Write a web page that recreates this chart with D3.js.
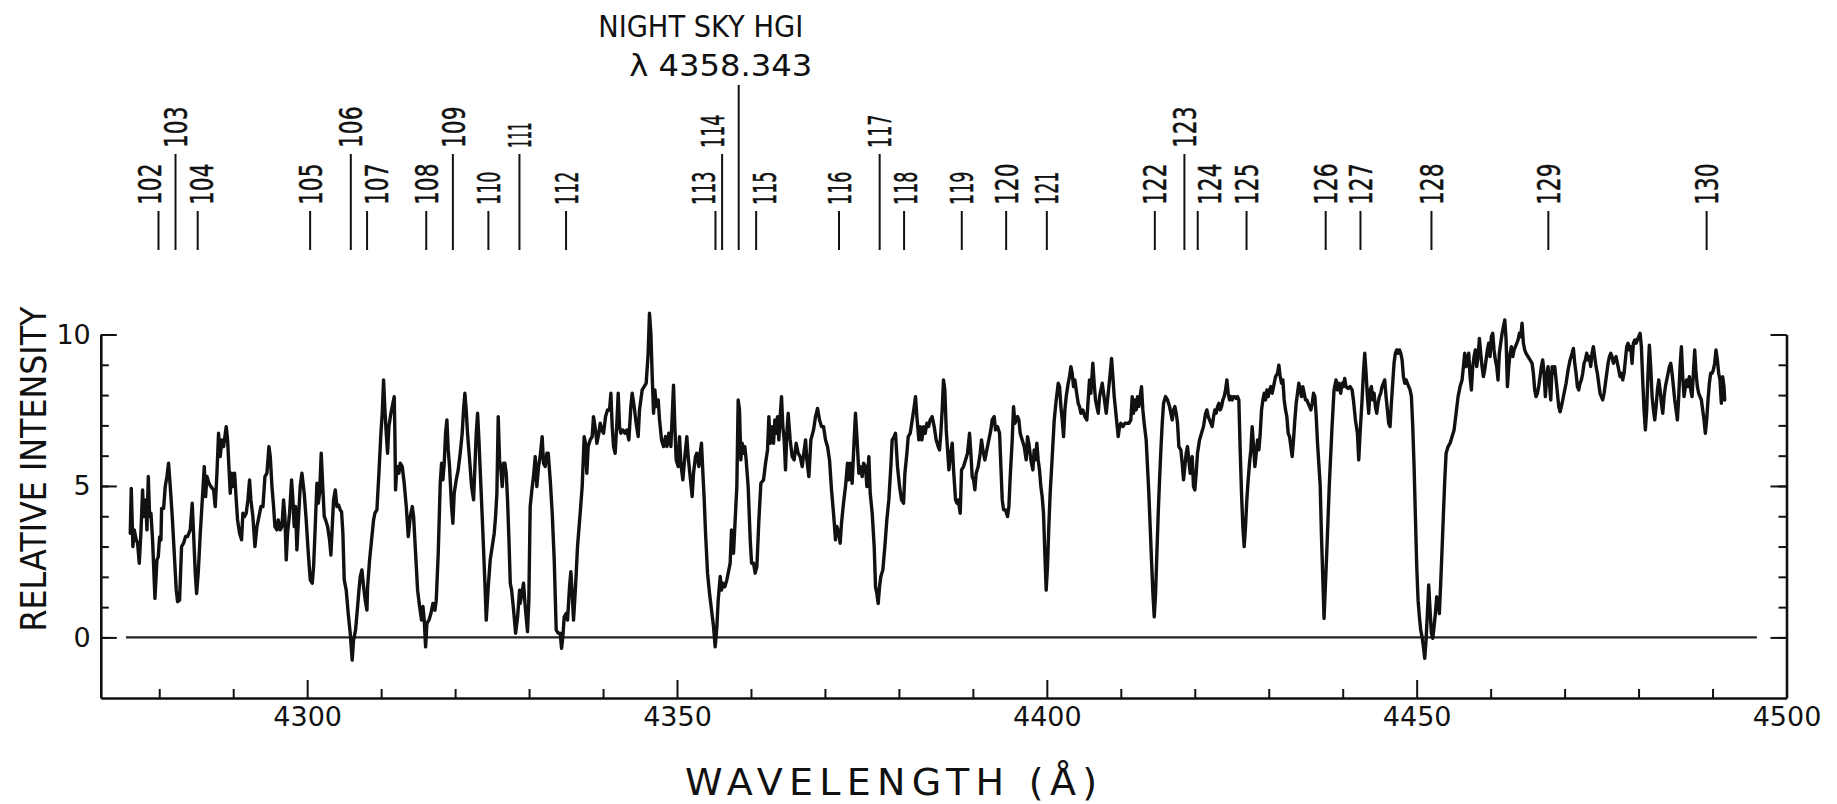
<!DOCTYPE html>
<html>
<head>
<meta charset="utf-8">
<script src="https://cdn.jsdelivr.net/npm/d3@7"></script>
<style>
  html, body { margin: 0; padding: 0; background: #fff; }
  svg { display: block; }
  text { font-family: "DejaVu Sans", "Liberation Sans", sans-serif; fill: #111; }
</style>
</head>
<body>
<svg id="chart" width="1837" height="804"></svg>
<script>
// ---- axis ticks ----
const xTickValues = [4300, 4350, 4400, 4450, 4500];
const yTickValues = [0, 5, 10];
const xAxisTitle = "WAVELENGTH (Å)";
const yAxisTitle = "RELATIVE INTENSITY";

// ---- identified absorption features ----
const lineIds = ["102","103","104","105","106","107","108","109","110","111","112","113","114","115",
                 "116","117","118","119","120","121","122","123","124","125","126","127","128","129","130"];
const lineWavelengths = [4279.9, 4282.2, 4285.2, 4300.4, 4305.9, 4308.1, 4316.1, 4319.7, 4324.5, 4328.7,
                         4335.0, 4355.2, 4356.1, 4360.7, 4371.9, 4377.4, 4380.7, 4388.5, 4394.5, 4400.0,
                         4414.6, 4418.6, 4420.4, 4427.0, 4437.7, 4442.4, 4452.0, 4467.8, 4489.2];
const raisedIds = ["103","106","109","111","114","117","123"];

// ---- night-sky mercury line ----
const hgName = "NIGHT SKY HGI";
const hgWavelength = 4358.343;

// ---- zero level drawn across the trace ----
const zeroLineSpan = [4275.5, 4496];

// ---- spectrum: [wavelength (Å), relative intensity] ----
const spectrum = [
[4276.08,3.44],[4276.22,4.92],[4276.44,3.00],[4276.62,3.55],[4276.89,3.22],[4277.07,3.11],[4277.30,2.45],[4277.52,3.44],[4277.75,4.87],[4277.89,3.99],
[4278.02,4.10],[4278.16,4.54],[4278.34,3.55],[4278.52,5.31],[4278.70,3.99],[4278.88,4.10],[4279.10,3.22],[4279.42,1.29],[4279.69,2.56],[4279.87,2.66],
[4280.05,3.32],[4280.23,3.22],[4280.32,4.26],[4280.59,4.26],[4280.81,4.98],[4281.04,5.31],[4281.26,5.75],[4281.49,4.98],[4281.76,3.99],[4282.03,2.78],
[4282.30,1.56],[4282.48,1.18],[4282.75,1.23],[4283.02,3.00],[4283.29,3.11],[4283.56,3.33],[4283.83,3.33],[4284.01,3.44],[4284.19,3.55],[4284.46,4.43],
[4284.64,3.44],[4284.87,2.12],[4285.05,1.45],[4285.27,2.12],[4285.55,3.44],[4285.82,4.54],[4286.09,5.64],[4286.27,4.65],[4286.45,5.31],[4286.72,5.09],
[4286.99,4.98],[4287.35,4.87],[4287.57,4.32],[4287.80,5.42],[4288.02,6.74],[4288.25,5.97],[4288.47,6.52],[4288.70,6.30],[4288.88,6.63],[4289.06,6.96],
[4289.24,6.52],[4289.42,5.64],[4289.60,4.76],[4289.78,5.42],[4289.96,4.98],[4290.19,5.42],[4290.41,4.54],[4290.59,3.88],[4290.86,3.44],[4291.13,3.22],
[4291.31,4.10],[4291.54,3.99],[4291.76,4.10],[4291.99,4.54],[4292.21,5.20],[4292.39,4.54],[4292.66,3.99],[4292.94,3.00],[4293.21,3.66],[4293.48,3.99],
[4293.75,4.32],[4294.02,4.32],[4294.29,5.31],[4294.56,5.42],[4294.83,6.30],[4295.01,5.97],[4295.24,4.98],[4295.46,4.32],[4295.64,3.66],[4295.91,3.55],
[4296.09,3.88],[4296.36,3.55],[4296.59,3.66],[4296.81,4.54],[4296.99,3.99],[4297.17,2.56],[4297.35,3.44],[4297.62,4.10],[4297.89,5.20],[4298.07,4.54],
[4298.25,3.66],[4298.43,4.32],[4298.61,2.89],[4298.84,3.99],[4299.06,4.98],[4299.29,5.42],[4299.60,4.76],[4299.87,3.88],[4300.15,2.78],[4300.42,1.90],
[4300.69,1.79],[4300.87,2.34],[4301.09,3.66],[4301.32,5.09],[4301.50,4.43],[4301.68,4.76],[4301.90,6.08],[4302.13,4.87],[4302.31,3.99],[4302.49,3.88],
[4302.76,3.66],[4303.03,3.22],[4303.21,2.72],[4303.39,3.66],[4303.57,4.54],[4303.80,4.87],[4304.02,4.32],[4304.25,4.37],[4304.47,4.21],[4304.65,4.15],
[4304.83,3.44],[4305.01,1.90],[4305.28,1.56],[4305.55,0.79],[4305.82,0.14],[4306.09,-0.75],[4306.27,-0.09],[4306.54,0.24],[4306.82,1.02],[4307.00,1.56],
[4307.18,2.01],[4307.40,2.23],[4307.63,1.67],[4307.85,1.23],[4308.08,0.90],[4308.17,1.67],[4308.44,2.56],[4308.71,3.22],[4308.98,3.88],[4309.16,4.10],
[4309.43,4.21],[4309.70,5.42],[4309.97,6.74],[4310.15,7.40],[4310.33,8.50],[4310.51,7.51],[4310.69,6.74],[4310.87,6.08],[4311.05,6.96],[4311.32,7.40],
[4311.59,7.73],[4311.77,7.95],[4311.86,6.74],[4311.95,4.87],[4312.13,5.64],[4312.40,5.42],[4312.58,5.75],[4312.85,5.64],[4313.12,5.09],[4313.40,4.32],
[4313.67,3.33],[4313.94,3.99],[4314.21,4.32],[4314.39,3.99],[4314.66,2.78],[4314.93,1.56],[4315.20,1.02],[4315.47,0.57],[4315.65,1.02],[4315.83,0.57],
[4316.01,-0.31],[4316.19,0.46],[4316.46,0.57],[4316.73,0.79],[4317.00,1.12],[4317.27,0.90],[4317.45,1.23],[4317.72,2.78],[4317.99,5.09],[4318.17,5.75],
[4318.35,5.20],[4318.53,5.75],[4318.71,6.74],[4318.89,7.18],[4319.07,6.19],[4319.25,5.64],[4319.52,4.32],[4319.70,3.77],[4319.88,4.76],[4320.15,5.20],
[4320.42,5.53],[4320.69,6.08],[4320.96,6.74],[4321.14,7.51],[4321.32,8.06],[4321.50,7.51],[4321.68,6.74],[4321.96,5.86],[4322.23,4.98],[4322.50,4.54],
[4322.68,5.64],[4322.86,6.74],[4323.04,7.40],[4323.22,6.52],[4323.49,4.98],[4323.76,3.44],[4324.03,1.79],[4324.21,0.57],[4324.48,1.67],[4324.75,2.56],
[4325.02,3.00],[4325.29,3.44],[4325.47,3.99],[4325.65,4.76],[4325.83,7.29],[4326.01,5.86],[4326.19,5.53],[4326.37,4.98],[4326.55,5.75],[4326.73,5.75],
[4326.91,5.42],[4327.09,4.54],[4327.28,3.22],[4327.46,1.79],[4327.64,1.56],[4327.91,0.90],[4328.18,0.14],[4328.45,0.68],[4328.72,1.56],
[4328.80,1.12],[4329.03,1.45],[4329.25,1.79],[4329.48,1.02],[4329.79,0.19],[4329.97,1.23],[4330.15,4.32],[4330.38,4.87],[4330.60,5.31],[4330.83,5.97],
[4331.05,4.98],[4331.28,5.64],[4331.50,5.97],[4331.77,6.63],[4331.95,5.75],[4332.18,5.64],[4332.41,6.08],[4332.59,6.08],[4332.86,5.20],[4333.13,4.10],
[4333.40,2.56],[4333.67,0.24],[4333.94,0.14],[4334.21,0.14],[4334.39,-0.36],[4334.57,0.02],[4334.75,0.68],[4335.02,0.79],[4335.20,0.57],[4335.47,1.67],
[4335.65,2.17],[4335.83,1.45],[4336.01,0.57],[4336.28,1.67],[4336.55,3.00],[4336.91,4.10],[4337.18,4.98],[4337.45,6.63],[4337.63,6.41],[4337.81,5.42],
[4337.99,6.30],[4338.26,6.52],[4338.53,6.63],[4338.71,7.29],[4338.98,6.85],[4339.17,6.41],[4339.44,6.74],[4339.62,7.07],[4339.84,6.85],[4340.07,6.74],
[4340.34,7.29],[4340.61,7.51],[4340.88,7.51],[4341.06,8.06],[4341.24,6.96],[4341.42,6.30],[4341.64,6.08],[4341.87,7.07],[4342.05,8.06],[4342.23,6.96],
[4342.41,6.74],[4342.68,6.85],[4342.95,6.74],[4343.22,6.85],[4343.49,6.52],[4343.76,7.62],[4343.94,8.06],[4344.21,7.62],[4344.48,7.07],[4344.75,6.63],
[4344.93,7.51],[4345.29,8.17],[4345.56,8.28],[4345.83,8.39],[4346.10,9.38],[4346.28,10.70],[4346.47,10.04],[4346.65,8.61],[4346.83,7.40],[4347.01,8.17],
[4347.19,7.62],[4347.46,7.84],[4347.64,7.18],[4347.91,6.52],[4348.18,6.30],[4348.45,6.63],[4348.63,6.30],[4348.90,6.74],[4349.17,6.30],[4349.35,7.29],
[4349.53,8.33],[4349.71,6.96],[4349.89,5.86],[4350.16,5.64],[4350.34,6.63],[4350.52,5.75],[4350.79,5.20],[4351.06,5.97],[4351.33,6.63],[4351.51,5.97],
[4351.78,5.31],[4352.05,4.65],[4352.23,5.42],[4352.50,5.97],[4352.68,6.08],[4352.95,5.64],[4353.13,6.08],[4353.31,6.41],[4353.50,5.42],[4353.68,4.54],
[4353.86,3.44],[4354.13,2.12],[4354.40,1.45],[4354.67,0.90],[4354.94,0.35],[4355.16,-0.31],[4355.39,0.35],[4355.57,1.23],[4355.84,2.01],[4356.02,1.56],
[4356.20,1.79],[4356.47,1.67],[4356.74,1.90],[4356.92,2.12],[4357.19,2.45],[4357.37,3.55],[4357.64,2.78],[4357.82,3.66],[4358.09,4.98],[4358.27,7.84],
[4358.45,7.51],[4358.63,5.86],[4358.81,6.41],[4358.99,6.08],[4359.17,6.30],[4359.35,5.86],[4359.62,4.98],[4359.90,3.22],[4360.08,2.45],[4360.35,2.45],
[4360.57,2.12],[4360.80,2.34],[4361.07,3.88],[4361.34,5.09],[4361.70,5.20],[4361.97,5.75],[4362.24,6.19],[4362.42,7.29],[4362.60,6.41],[4362.87,6.96],
[4363.05,6.41],[4363.23,7.18],[4363.41,6.74],[4363.59,7.29],[4363.77,6.52],[4363.95,7.29],[4364.13,7.95],[4364.31,6.96],[4364.49,6.52],[4364.67,5.53],
[4364.85,6.74],[4365.03,7.40],[4365.30,6.52],[4365.57,5.97],[4365.84,5.86],[4366.11,6.41],[4366.38,6.08],[4366.65,5.97],[4366.93,5.64],[4367.20,6.19],
[4367.38,6.52],[4367.56,5.86],[4367.83,5.31],[4368.10,6.52],[4368.46,6.85],[4368.73,7.29],[4369.00,7.56],[4369.27,7.18],[4369.54,6.96],[4369.81,6.96],
[4370.08,6.52],[4370.35,6.30],[4370.62,5.86],[4370.89,4.87],[4371.16,4.10],[4371.43,3.22],[4371.61,3.66],[4371.88,3.44],[4372.06,3.11],[4372.24,3.77],
[4372.51,4.43],[4372.78,4.98],[4373.05,5.75],[4373.23,5.20],[4373.41,5.75],[4373.68,5.09],[4373.95,6.52],[4374.13,7.40],[4374.32,6.63],[4374.59,5.42],
[4374.77,5.64],[4375.04,5.31],[4375.22,5.75],[4375.49,5.64],[4375.67,4.98],[4375.94,5.97],[4376.12,4.76],[4376.39,4.10],[4376.66,3.00],[4376.84,1.67],
[4377.02,1.45],[4377.20,1.12],[4377.38,1.67],[4377.56,2.01],[4377.83,2.23],[4378.10,3.00],[4378.37,3.88],[4378.64,4.54],[4378.91,5.64],[4379.09,6.52],
[4379.36,6.63],[4379.54,6.74],[4379.81,5.64],[4380.09,4.98],[4380.36,4.54],[4380.63,4.43],[4380.81,5.42],[4381.08,6.08],[4381.26,6.63],[4381.53,6.74],
[4381.80,7.18],[4382.07,7.62],[4382.25,7.95],[4382.43,7.29],[4382.70,6.52],
[4382.88,6.96],[4383.11,6.52],[4383.33,6.96],[4383.56,6.74],[4383.78,7.07],[4384.01,6.96],[4384.23,7.18],[4384.50,7.29],[4384.77,6.96],[4385.04,6.52],
[4385.31,6.30],[4385.49,6.19],[4385.67,6.74],[4385.85,7.51],[4386.03,8.50],[4386.21,8.17],[4386.40,6.85],[4386.58,6.19],[4386.76,5.53],[4386.94,5.97],
[4387.21,6.41],[4387.39,5.53],[4387.66,4.54],[4387.84,4.43],[4388.02,4.54],[4388.29,4.10],[4388.47,5.53],[4388.74,5.64],[4389.01,5.86],[4389.28,6.08],
[4389.55,6.74],[4389.73,6.08],[4389.91,5.31],[4390.09,5.20],[4390.27,4.87],[4390.45,5.42],[4390.72,5.64],[4390.99,6.08],[4391.17,6.52],[4391.35,6.19],
[4391.62,5.86],[4391.89,6.19],[4392.16,6.52],[4392.43,6.85],[4392.61,7.18],[4392.88,7.29],[4393.06,6.85],[4393.33,6.96],[4393.61,6.74],[4393.79,5.64],
[4393.97,4.54],[4394.15,4.21],[4394.42,4.21],[4394.69,3.99],[4394.87,4.32],[4395.05,5.31],[4395.32,6.52],[4395.50,7.62],[4395.68,7.07],[4395.86,7.18],
[4396.04,7.29],[4396.22,7.18],[4396.40,6.74],[4396.67,6.52],[4396.94,6.30],[4397.21,5.86],[4397.39,6.63],[4397.57,6.41],[4397.84,5.86],[4398.11,5.53],
[4398.29,6.19],[4398.47,5.86],[4398.65,6.41],[4398.83,5.86],[4399.01,5.53],[4399.19,4.98],[4399.37,4.65],[4399.55,4.10],[4399.73,2.78],[4399.91,1.56],
[4400.09,2.34],[4400.27,3.66],[4400.45,4.76],[4400.73,5.97],[4401.00,7.18],[4401.27,7.84],[4401.54,8.39],[4401.72,8.28],[4401.90,7.62],[4402.08,7.18],
[4402.26,6.63],[4402.44,7.51],[4402.62,7.95],[4402.89,8.39],[4403.07,8.61],[4403.25,8.94],[4403.43,8.72],[4403.61,8.28],[4403.79,8.50],[4403.97,8.17],
[4404.24,7.73],[4404.42,7.62],[4404.60,7.40],[4404.87,7.51],[4405.14,7.29],[4405.41,7.18],[4405.59,7.84],[4405.77,8.50],[4405.95,8.06],[4406.22,9.05],
[4406.40,8.39],[4406.58,7.84],[4406.76,7.62],[4406.95,7.40],[4407.13,7.95],[4407.31,8.17],[4407.49,8.39],[4407.67,8.06],[4407.85,7.73],[4408.03,7.40],
[4408.21,7.84],[4408.39,8.28],[4408.57,8.72],[4408.75,9.21],[4408.93,8.61],[4409.11,7.95],[4409.29,7.51],[4409.47,7.07],[4409.65,6.63],[4409.83,6.96],
[4410.01,7.07],[4410.28,6.96],[4410.55,7.07],[4410.82,7.07],[4411.09,7.07],[4411.36,7.18],[4411.54,7.95],[4411.72,7.40],[4411.90,7.84],[4412.08,7.51],
[4412.26,7.95],[4412.44,7.62],[4412.62,7.95],[4412.80,8.28],[4412.98,7.51],[4413.16,7.07],[4413.43,6.52],[4413.61,5.64],[4413.79,4.76],[4413.97,3.66],
[4414.15,2.56],[4414.34,1.45],[4414.52,0.68],[4414.70,1.45],[4414.88,2.78],[4415.06,4.10],[4415.24,5.20],[4415.42,6.19],[4415.60,7.07],[4415.78,7.73],
[4416.05,7.95],[4416.32,7.84],[4416.59,7.62],[4416.77,7.40],[4416.95,7.18],[4417.13,7.51],[4417.31,7.62],[4417.49,7.40],[4417.67,7.07],[4417.85,6.30],
[4418.12,6.19],[4418.30,5.75],[4418.48,5.20],[4418.66,5.64],[4418.84,6.08],[4419.02,6.30],[4419.20,5.86],[4419.38,5.42],[4419.65,5.97],[4419.83,4.98],
[4420.01,4.87],[4420.19,5.42],[4420.37,6.08],[4420.64,6.52],[4420.91,6.74],[4421.18,6.96],[4421.46,7.40],[4421.64,7.51],[4421.82,7.29],[4422.00,7.18],
[4422.18,7.07],[4422.36,6.96],[4422.54,7.29],[4422.72,7.51],[4422.90,7.40],[4423.08,7.62],[4423.26,7.73],[4423.44,7.51],[4423.62,7.62],[4423.80,7.84],
[4423.98,7.95],[4424.16,8.17],[4424.34,8.50],[4424.52,8.06],[4424.70,7.84],[4424.88,7.95],[4425.06,7.84],[4425.24,7.95],[4425.42,7.95],[4425.60,7.89],
[4425.78,7.95],[4425.96,7.84],[4426.14,6.19],[4426.32,4.76],[4426.50,3.66],[4426.68,3.00],[4426.86,3.66],[4427.04,4.54],[4427.22,5.20],[4427.40,5.75],
[4427.58,6.19],[4427.76,6.96],[4427.95,6.30],[4428.13,5.64],[4428.31,6.08],[4428.49,6.52],[4428.67,6.19],[4428.85,6.74],[4429.03,7.51],[4429.21,7.84],
[4429.39,8.06],[4429.57,7.84],[4429.75,8.17],[4429.93,7.95],[4430.11,8.17],[4430.29,8.28],[4430.47,8.06],[4430.65,8.28],[4430.92,8.61],[4431.19,8.72],
[4431.37,8.99],[4431.55,8.61],[4431.73,8.39],[4431.91,8.50],[4432.09,7.84],[4432.27,7.51],[4432.45,7.29],[4432.63,6.74],[4432.81,6.63],[4432.99,6.30],
[4433.17,5.97],[4433.35,6.52],[4433.53,7.18],[4433.71,7.73],[4433.89,8.06],[4434.07,8.39],[4434.25,8.17],[4434.43,7.95],[4434.61,8.28],[4434.79,8.06],
[4434.97,7.84],[4435.15,7.84],[4435.33,7.73],[4435.52,7.62],[4435.70,7.51],[4435.88,7.73],[4436.06,8.06],[4436.24,7.95],[4436.42,7.29],[4436.60,6.40],
[4436.96,5.00],
[4437.12,3.44],[4437.48,0.63],[4437.84,2.78],[4438.20,5.09],[4438.56,6.96],[4438.83,8.17],[4439.10,8.50],[4439.28,8.17],[4439.46,8.39],[4439.73,8.06],
[4439.91,8.39],[4440.09,8.28],[4440.27,8.55],[4440.45,8.28],[4440.73,8.22],[4441.00,8.28],[4441.27,8.17],[4441.45,7.84],[4441.72,7.18],[4441.99,6.74],
[4442.17,5.86],[4442.35,6.74],[4442.62,7.84],[4442.80,8.72],[4442.98,9.38],[4443.16,8.72],[4443.34,7.95],[4443.52,7.40],[4443.70,8.17],[4443.88,8.28],
[4444.06,7.84],[4444.24,8.06],[4444.42,7.62],[4444.60,7.40],[4444.78,7.73],[4444.96,7.95],[4445.14,8.06],[4445.32,8.28],[4445.50,8.39],[4445.68,8.50],
[4445.86,7.95],[4446.04,7.51],[4446.22,7.07],[4446.40,6.96],[4446.58,7.73],[4446.76,8.39],[4446.94,9.05],[4447.12,9.38],[4447.30,9.49],[4447.49,9.38],
[4447.67,9.49],[4447.85,9.38],[4448.03,9.16],[4448.21,8.61],[4448.39,8.39],[4448.57,8.50],[4448.75,8.39],[4448.93,8.28],[4449.11,8.17],[4449.29,7.95],
[4449.47,6.96],[4449.65,5.64],[4449.83,3.99],[4450.01,2.34],[4450.19,1.23],[4450.37,0.68],[4450.55,0.24],[4450.73,0.02],[4450.91,-0.31],[4451.09,-0.69],
[4451.27,-0.09],[4451.45,0.79],[4451.63,1.73],[4451.81,0.90],[4451.99,0.14],[4452.17,-0.03],[4452.35,0.35],[4452.53,0.79],[4452.71,1.34],[4452.89,1.23],
[4453.07,0.79],[4453.25,1.79],[4453.43,2.89],[4453.62,4.10],[4453.80,5.20],[4453.98,6.08],[4454.25,6.30],[4454.52,6.41],[4454.79,6.63],[4455.06,6.85],
[4455.33,7.40],[4455.60,7.95],[4455.87,8.28],[4456.14,8.50],[4456.32,8.94],[4456.50,9.38],[4456.68,8.94],[4456.86,9.16],[4457.04,9.38],[4457.22,8.61],
[4457.40,8.17],[4457.58,8.94],[4457.76,9.27],[4457.94,9.49],[4458.12,8.94],[4458.30,9.27],[4458.48,9.87],[4458.66,9.38],[4458.84,8.94],[4459.02,8.61],
[4459.20,8.83],[4459.38,9.16],[4459.56,9.49],[4459.74,9.71],[4459.92,9.27],[4460.10,9.93],[4460.28,10.04],[4460.46,9.49],[4460.64,9.16],[4460.82,8.94],
[4461.00,8.50],[4461.18,9.38],[4461.36,9.71],[4461.55,10.04],[4461.73,10.26],[4461.91,10.48],[4462.09,9.82],[4462.27,8.28],[4462.45,8.94],[4462.63,9.38],
[4462.81,9.60],[4462.99,9.27],[4463.17,9.49],[4463.35,9.60],[4463.53,9.71],[4463.71,9.82],[4463.89,10.04],[4464.07,9.93],[4464.25,10.37],[4464.43,9.71],
[4464.61,9.49],[4464.79,9.38],[4465.06,9.27],[4465.33,9.16],[4465.60,9.05],[4465.78,8.72],[4465.96,8.17],[4466.14,7.95],[4466.32,8.06],[4466.50,8.28],
[4466.68,8.61],[4466.86,8.94],[4467.04,9.16],[4467.22,8.72],[4467.40,7.95],[4467.58,8.61],[4467.76,8.94],[4467.95,8.39],[4468.13,7.84],[4468.31,8.94],
[4468.49,8.72],[4468.67,8.94],[4468.85,8.50],[4469.03,8.06],[4469.21,7.62],[4469.39,7.45],[4469.66,7.73],[4469.93,8.06],[4470.20,8.39],[4470.47,8.83],
[4470.74,9.16],[4471.01,9.38],[4471.19,9.54],[4471.37,9.05],[4471.55,8.72],[4471.73,8.28],[4471.91,8.17],[4472.09,8.39],[4472.27,8.50],[4472.45,8.72],
[4472.63,9.05],[4472.81,9.16],[4472.99,9.38],[4473.17,9.16],[4473.35,9.27],[4473.53,8.94],[4473.71,9.38],[4473.89,9.60],[4474.07,9.27],[4474.25,8.94],
[4474.43,8.72],[4474.61,8.39],[4474.79,8.06],[4474.97,7.95],[4475.15,7.84],[4475.34,8.06],[4475.52,8.39],[4475.70,8.72],[4475.88,9.05],[4476.06,9.27],
[4476.24,9.38],[4476.42,9.27],[4476.60,9.05],[4476.78,9.16],[4476.96,9.27],[4477.14,9.05],[4477.32,8.83],[4477.50,8.61],[4477.68,8.72],[4477.86,8.50],
[4478.04,8.72],[4478.22,9.16],[4478.40,9.60],[4478.58,9.71],[4478.76,9.49],[4478.94,9.60],[4479.12,9.05],[4479.30,9.71],[4479.48,9.82],[4479.66,9.71],
[4479.84,9.82],[4480.02,9.93],[4480.20,10.04],[4480.38,9.60],[4480.56,8.50],[4480.74,7.51],[4480.92,6.85],[4481.10,7.51],[4481.28,8.72],[4481.46,9.65],
[4481.64,8.94],[4481.83,7.95],[4482.01,7.51],[4482.19,7.18],[4482.37,7.62],[4482.55,8.17],[4482.73,8.50],[4482.91,8.17],[4483.09,7.73],[4483.27,7.40],
[4483.45,7.95],[4483.63,8.28],[4483.81,8.50],[4483.99,8.72],[4484.17,8.94],[4484.35,9.05],[4484.53,8.72],[4484.71,8.28],[4484.89,7.84],[4485.07,7.51],
[4485.25,7.18],[4485.43,7.95],[4485.61,8.94],[4485.79,9.60],[4485.97,8.61],[4486.15,7.95],[4486.33,8.28],[4486.51,8.50],[4486.69,8.28],[4486.87,8.61],
[4487.05,8.17],[4487.23,7.95],[4487.41,8.72],[4487.59,9.49],[4487.77,8.72],[4487.95,8.28],[4488.13,8.06],[4488.31,7.95],[4488.49,7.84],[4488.67,7.51],
[4488.85,7.18],[4489.03,6.74],[4489.21,7.18],[4489.39,7.84],[4489.57,8.39],[4489.75,8.72],[4489.93,8.72],[4490.11,8.83],[4490.29,9.05],[4490.47,9.49],
[4490.65,9.16],[4490.83,8.72],[4491.01,8.50],[4491.19,7.73],[4491.37,8.61],[4491.55,8.28],[4491.64,7.84]
];

// ---------------------------------------------------------------
const W = 1837, H = 804;
const svg = d3.select("#chart").attr("viewBox", `0 0 ${W} ${H}`);
svg.append("rect").attr("width", W).attr("height", H).attr("fill", "#fff");

const x = d3.scaleLinear().domain([4272.1, 4500]).range([100.8, 1786.5]);
const y = d3.scaleLinear().domain([-2, 10]).range([698, 334.5]);
const ink = "#111";

function styleAxis(g, fontSize) {
  g.attr("font-family", '"DejaVu Sans", sans-serif')
   .attr("font-size", fontSize)
   .attr("color", ink);
  g.selectAll(".domain").attr("stroke-width", 2.6);
  g.selectAll(".tick line").attr("stroke-width", 2);
}

// bottom axis: minor ticks every 10 Å, major every 50 Å with labels
const minorX = d3.range(4280, 4500, 10).filter(v => v % 50 !== 0);
svg.append("g")
  .attr("transform", `translate(0,${y(-2)})`)
  .call(d3.axisBottom(x).tickValues(minorX).tickSizeInner(-9).tickSizeOuter(0).tickFormat(""))
  .call(g => g.select(".domain").remove())
  .call(g => styleAxis(g, 27));
svg.append("g")
  .attr("transform", `translate(0,${y(-2)})`)
  .call(d3.axisBottom(x).tickValues(xTickValues).tickSizeInner(-18).tickSizeOuter(0)
        .tickPadding(9).tickFormat(d3.format("d")))
  .call(g => styleAxis(g, 27));

// left axis
svg.append("g")
  .attr("transform", `translate(${x(4272.1)},0)`)
  .call(d3.axisLeft(y).tickValues(d3.range(0, 11)).tickSizeInner(-8).tickSizeOuter(0).tickFormat(""))
  .call(g => g.select(".domain").remove())
  .call(g => styleAxis(g, 27));
svg.append("g")
  .attr("transform", `translate(${x(4272.1)},0)`)
  .call(d3.axisLeft(y).tickValues(yTickValues).tickSizeInner(-16).tickSizeOuter(0)
        .tickPadding(10).tickFormat(d3.format("d")))
  .call(g => styleAxis(g, 27));

// right axis (ticks only)
svg.append("g")
  .attr("transform", `translate(${x(4500)},0)`)
  .call(d3.axisRight(y).tickValues(d3.range(0, 11)).tickSizeInner(-8).tickSizeOuter(0).tickFormat(""))
  .call(g => g.select(".domain").remove())
  .call(g => styleAxis(g, 27));
svg.append("g")
  .attr("transform", `translate(${x(4500)},0)`)
  .call(d3.axisRight(y).tickValues(yTickValues).tickSizeInner(-16).tickSizeOuter(0).tickFormat(""))
  .call(g => styleAxis(g, 27));

// axis titles
svg.append("text")
  .attr("x", 891).attr("y", 795)
  .attr("text-anchor", "middle")
  .attr("font-size", 38)
  .attr("textLength", 412).attr("lengthAdjust", "spacing")
  .text(xAxisTitle);
svg.append("text")
  .attr("transform", "translate(46,469) rotate(-90)")
  .attr("text-anchor", "middle")
  .attr("font-size", 36)
  .attr("textLength", 325).attr("lengthAdjust", "spacingAndGlyphs")
  .text(yAxisTitle);

// zero level
svg.append("line")
  .attr("x1", x(zeroLineSpan[0])).attr("x2", x(zeroLineSpan[1]))
  .attr("y1", y(0)).attr("y2", y(0))
  .attr("stroke", "#222").attr("stroke-width", 2.2);

// spectrum trace
const line = d3.line().x(d => x(d[0])).y(d => y(d[1]));
svg.append("path")
  .datum(spectrum)
  .attr("d", line)
  .attr("fill", "none")
  .attr("stroke", ink)
  .attr("stroke-width", 3.4)
  .attr("stroke-linejoin", "round")
  .attr("stroke-linecap", "round");

// ---- identification marks ----
const markBottom = 250;
const lowTop = 211, highTop = 154;
const lowLabelBase = 205, highLabelBase = 148;
const idFont = 32, capHalf = idFont * 0.729 / 2;
const xHg = x(hgWavelength);

// rotated label length: the narrow "1" takes less room than other digits
const idLength = s => Array.from(s).reduce((n, c) => n + (c === "1" ? 8.5 : 16.5), 0);

const isRaised = id => raisedIds.includes(id);
const longMarks = lineIds.map((id, i) => isRaised(id) ? x(lineWavelengths[i]) : null)
                         .filter(v => v !== null);

const marks = svg.append("g").attr("class", "id-marks");
lineIds.forEach((id, i) => {
  const cx = x(lineWavelengths[i]);
  const raised = isRaised(id);
  marks.append("line")
    .attr("x1", cx).attr("x2", cx)
    .attr("y1", raised ? highTop : lowTop).attr("y2", markBottom)
    .attr("stroke", ink).attr("stroke-width", 2);

  // keep each number clear of the tall marks that rise past it
  const blockers = raised ? [xHg] : longMarks.concat([xHg]);
  const reach = 26;
  let shift = 0;
  blockers.forEach(L => {
    const d = L - cx;
    if (Math.abs(d) > 0.5 && Math.abs(d) < reach) {
      const need = d > 0 ? d - reach : d + reach;
      if (Math.abs(need) > Math.abs(shift)) shift = need;
    }
  });
  shift = Math.max(-12, Math.min(12, shift));

  marks.append("text")
    .attr("transform", `translate(${cx + shift + capHalf},${raised ? highLabelBase : lowLabelBase}) rotate(-90)`)
    .attr("font-size", idFont)
    .attr("stroke", ink).attr("stroke-width", 0.5)
    .attr("textLength", idLength(id)).attr("lengthAdjust", "spacingAndGlyphs")
    .text(id);
});

// mercury night-sky line and its caption
marks.append("line")
  .attr("x1", xHg).attr("x2", xHg)
  .attr("y1", 85).attr("y2", markBottom)
  .attr("stroke", ink).attr("stroke-width", 2);
svg.append("text")
  .attr("x", xHg - 38).attr("y", 37)
  .attr("text-anchor", "middle")
  .attr("font-size", 31)
  .attr("textLength", 205).attr("lengthAdjust", "spacingAndGlyphs")
  .text(hgName);
svg.append("text")
  .attr("x", xHg - 18).attr("y", 76)
  .attr("text-anchor", "middle")
  .attr("font-size", 31)
  .attr("textLength", 183).attr("lengthAdjust", "spacingAndGlyphs")
  .text(`λ ${hgWavelength.toFixed(3)}`);
</script>
</body>
</html>
